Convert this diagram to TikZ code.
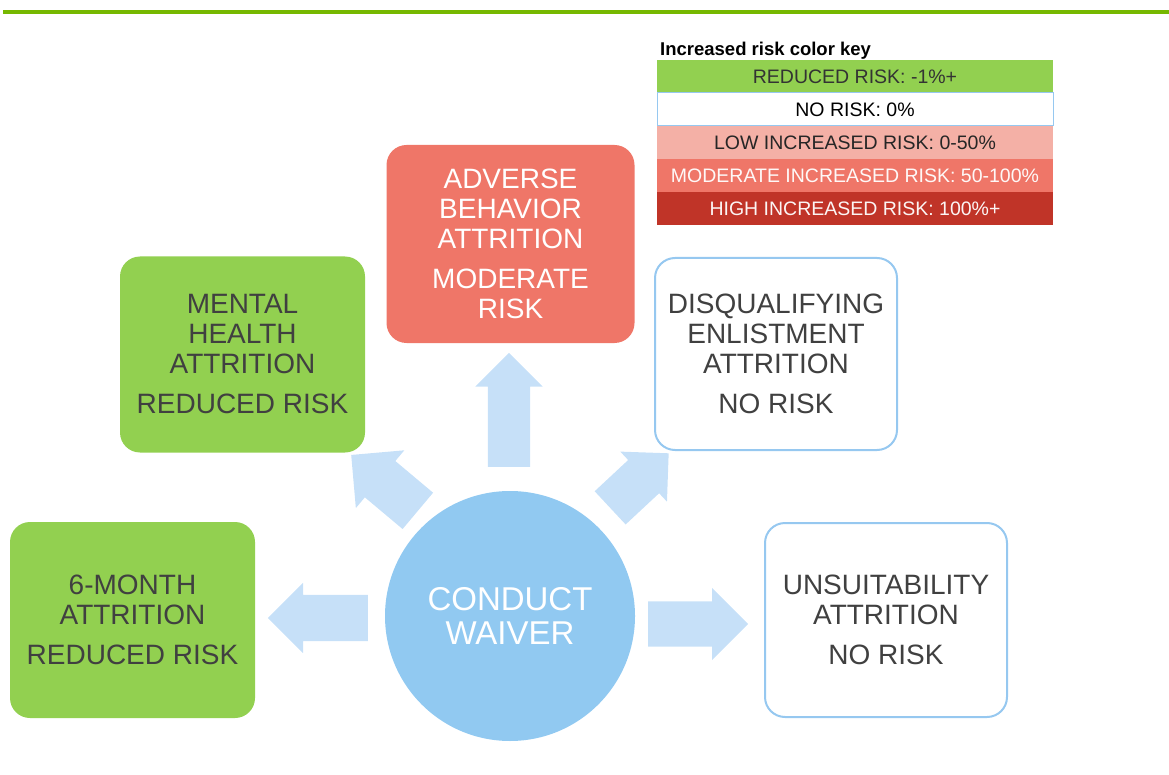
\documentclass[tikz,border=0pt]{standalone}
\usepackage{fontspec}
\setmainfont{Liberation Sans}
\usetikzlibrary{positioning,shapes,shapes.arrows}
\usepackage{xcolor}
\definecolor{topgreen}{RGB}{118,184,0}
\definecolor{riskgreen}{RGB}{146,208,80}
\definecolor{risklow}{RGB}{244,176,166}
\definecolor{riskmod}{RGB}{239,118,104}
\definecolor{riskhigh}{RGB}{192,52,40}
\definecolor{rimblue}{RGB}{150,200,240}
\definecolor{hubblue}{RGB}{145,201,241}
\definecolor{arrowblue}{RGB}{198,224,248}
\definecolor{boxtext}{RGB}{64,64,64}

\begin{document}
\begin{tikzpicture}
[x=1pt, y=-1pt,
% The outcome style is used to draw the attrition boxes
outcome/.style={rectangle, rounded corners=20pt, inner sep=0pt, minimum width=245pt, minimum height=196pt, align=center, text=boxtext, font=\fontsize{28}{30}\selectfont},
reduced/.style={outcome, fill=riskgreen},
norisk/.style={outcome, draw=rimblue, line width=2pt, fill=white},
moderate/.style={outcome, fill=riskmod, text=white},
% The hub style is used to draw the waiver circle
hub/.style={circle, fill=hubblue, minimum size=250pt, inner sep=0pt, align=center, text=white, font=\fontsize{33}{34}\selectfont},
% The push style is used to draw the block arrows
push/.style={single arrow, fill=arrowblue, inner xsep=0pt, single arrow tip angle=90, anchor=tail},
% The keyrow style is used to draw the rows of the color key
keyrow/.style={rectangle, inner sep=0pt, outer sep=0pt, minimum width=396pt, minimum height=33pt, font=\fontsize{19.5}{20}\selectfont}
]
\useasboundingbox (0,0) rectangle (1169,775);
% Top rule
\fill[topgreen](3,10) rectangle (1169,14);
% Color key
\draw(660,56)node[anchor=base west, inner sep=0pt, font=\bfseries\fontsize{18.5}{20}\selectfont](keytitle){Increased risk color key};
\draw(855,76.5)node[keyrow, fill=riskgreen, text=black!80](kreduced){REDUCED RISK: -1\%+};
\node[keyrow, below=0pt of kreduced, fill=white, draw=rimblue, line width=1pt](knone){NO RISK: 0\%};
\node[keyrow, below=0pt of knone, fill=risklow, text=black!85](klow){LOW INCREASED RISK: 0-50\%};
\node[keyrow, below=0pt of klow, fill=riskmod, text=white!95!riskmod](kmod){MODERATE INCREASED RISK: 50-100\%};
\node[keyrow, below=0pt of kmod, fill=riskhigh, text=white!95!riskhigh](khigh){HIGH INCREASED RISK: 100\%+};
% Draw outcomes
\draw(510.5,244)node[moderate, minimum width=248pt, minimum height=198pt](adverse){ADVERSE\\BEHAVIOR\\ATTRITION\\[10pt]MODERATE\\RISK};
\draw(242.5,354.5)node[reduced](mental){MENTAL\\HEALTH\\ATTRITION\\[10pt]REDUCED RISK};
\draw(776,354)node[norisk, minimum width=242pt, minimum height=192pt](disq){DISQUALIFYING\\ENLISTMENT\\ATTRITION\\[10pt]NO RISK};
\draw(132.5,620)node[reduced](sixmonth){6-MONTH\\ATTRITION\\[10pt]REDUCED RISK};
\draw(886,620)node[norisk, minimum width=242pt, minimum height=194pt](unsuit){UNSUITABILITY\\ATTRITION\\[10pt]NO RISK};
% Draw waiver
\draw(510,616)node[hub](waiver){CONDUCT\\WAIVER};
% Block arrows
\draw(509,467)node[push, rotate=90, inner ysep=21pt, minimum height=114pt, minimum width=67pt, single arrow head extend=12.5pt](pushup){};
\draw(368,618)node[push, rotate=180, inner ysep=23pt, minimum height=100pt, minimum width=70pt, single arrow head extend=12pt](pushleft){};
\draw(648,624)node[push, inner ysep=22.5pt, minimum height=100pt, minimum width=72pt, single arrow head extend=13.5pt](pushright){};
\draw(418,511)node[push, rotate=140, inner ysep=23.5pt, minimum height=87pt, minimum width=75pt, single arrow head extend=14pt](pushul){};
\draw(610,508)node[push, rotate=43, inner ysep=22.5pt, minimum height=80pt, minimum width=68pt, single arrow head extend=11.5pt](pushur){};
\end{tikzpicture}
\end{document}
